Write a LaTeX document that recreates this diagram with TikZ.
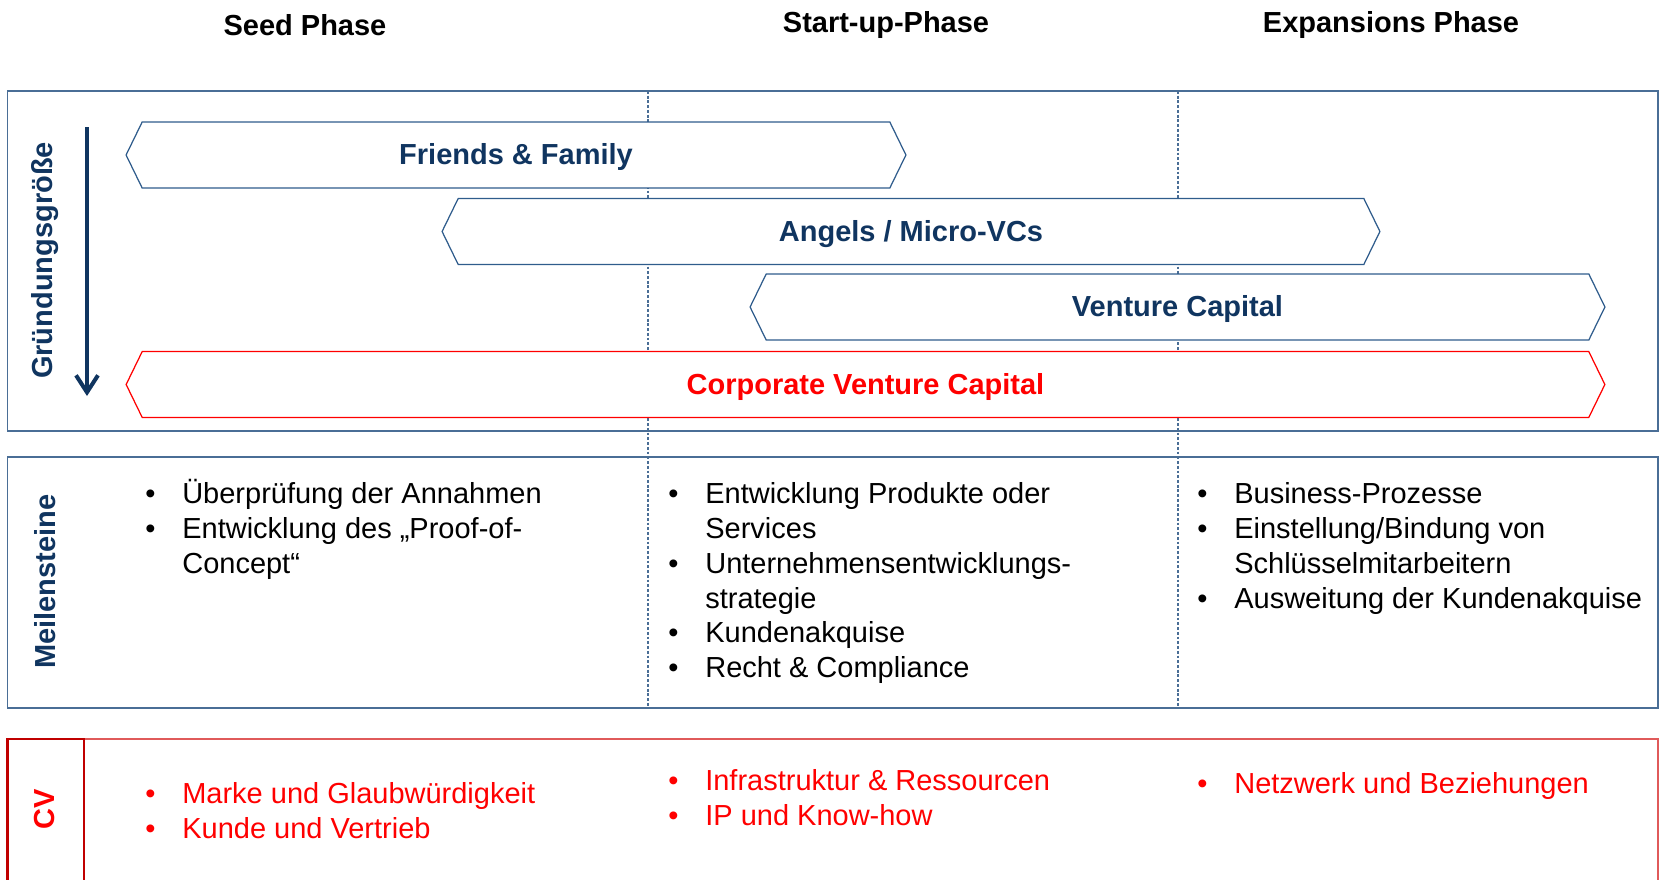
\documentclass[tikz,border=0pt]{standalone}
\usepackage{fontspec}
\setmainfont{Liberation Sans}
\usetikzlibrary{arrows.meta,shapes.symbols}
\definecolor{gsnavy}{HTML}{103560}
\definecolor{gsframe}{HTML}{4A6E96}
\definecolor{gshex}{HTML}{2F5C8C}
\definecolor{gsred}{HTML}{FF0000}
\definecolor{gsdark}{HTML}{C00000}
\definecolor{gslight}{HTML}{E05A5A}
\newcommand{\gsfont}{\fontsize{16.5}{19.84}\selectfont}
\newcommand{\bul}{\textbullet}
\newcommand{\itemlist}[1]{\begin{tabular}[t]{@{}p{0.74cm}@{}l@{}}#1\end{tabular}}
\tikzset{
  panel/.style={draw=gsframe, line width=1.1pt},
  colsep/.style={draw=gsframe, line width=0.6pt, dash pattern=on 1.6pt off 1.1pt},
  fund/.style={shape=signal, signal to=west and east, signal pointer angle=128, draw=gshex, line width=0.7pt, fill=white, minimum height=1.32cm, inner sep=0pt, text height=1.1em, text depth=0pt, font=\gsfont\bfseries, text=gsnavy},
  cvc/.style={fund, draw=gsred, text=gsred},
  phase/.style={anchor=base, font=\gsfont\bfseries},
  side/.style={rotate=90, font=\gsfont\bfseries, text=gsnavy},
  items/.style={anchor=base west, inner sep=0pt, font=\gsfont},
  sizearrow/.style={-{Straight Barb[length=3.4mm,width=4.4mm]}, line width=2.3pt, draw=gsnavy},
}
\begin{document}
\begin{tikzpicture}[x=0.02cm, y=-0.02cm]
  \useasboundingbox (0,0) rectangle (1663,879);
  \clip (0,0) rectangle (1663,879);
  % phase headings
  \node[phase] (seed) at (305,35) {Seed Phase};
  \node[phase] (startup) at (886,32) {Start-up-Phase};
  \node[phase] (expansion) at (1391,32) {Expansions Phase};
  % column separators, behind the funding bars
  \draw[colsep] (648,91) -- (648,708);
  \draw[colsep] (1178,91) -- (1178,708);
  % panels
  \draw[panel] (7.5,91) rectangle (1658,431);
  \draw[panel] (7.5,457) rectangle (1658,708);
  \draw[draw=gslight, line width=0.9pt] (7.5,739) rectangle (1658,900);
  \draw[draw=gsdark, line width=1.6pt] (7.5,900) -- (7.5,739) -- (84,739) -- (84,900);
  % row labels
  \node[side] (size) at (45,260.5) {Gründungsgröße};
  \node[side] (miles) at (45,581.5) {Meilensteine};
  \node[side, text=gsred] (cv) at (45,809.5) {CV};
  \coordinate (gtop) at (87,127);
  \coordinate (gbot) at (87,396);
  \draw[sizearrow] (gtop) -- (gbot);
  % funding sources
  \node[fund, minimum width=15.6cm] (ff) at (516,155) {Friends \& Family};
  \node[fund, minimum width=18.76cm] (angels) at (911,231.5) {Angels / Micro-VCs};
  \node[fund, minimum width=17.1cm] (vc) at (1177.5,307) {Venture Capital};
  \node[cvc, minimum width=29.58cm] (cvcap) at (865.5,384.5) {Corporate Venture Capital};
  % milestones
  \node[items] (seedms) at (145,503.5) {\itemlist{\bul & Überprüfung der Annahmen\\ \bul & Entwicklung des „Proof-of-\\ & Concept“}};
  \node[items] (startms) at (668,503.5) {\itemlist{\bul & Entwicklung Produkte oder\\ & Services\\ \bul & Unternehmensentwicklungs-\\ & strategie\\ \bul & Kundenakquise\\ \bul & Recht \& Compliance}};
  \node[items] (expms) at (1197,503.5) {\itemlist{\bul & Business-Prozesse\\ \bul & Einstellung/Bindung von\\ & Schlüsselmitarbeitern\\ \bul & Ausweitung der Kundenakquise}};
  % corporate venturing contribution
  \node[items, text=gsred] (seedcv) at (145,803.5) {\itemlist{\bul & Marke und Glaubwürdigkeit\\ \bul & Kunde und Vertrieb}};
  \node[items, text=gsred] (startcv) at (668,790.5) {\itemlist{\bul & Infrastruktur \& Ressourcen\\ \bul & IP und Know-how}};
  \node[items, text=gsred] (expcv) at (1197,793.5) {\itemlist{\bul & Netzwerk und Beziehungen}};
\end{tikzpicture}
\end{document}
